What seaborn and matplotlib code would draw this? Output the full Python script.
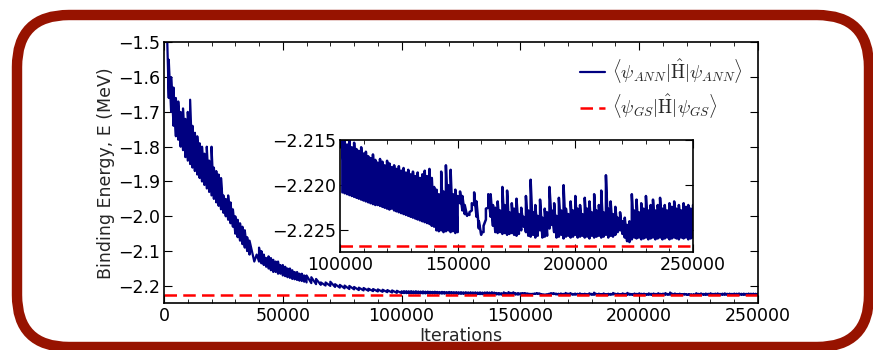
import numpy as np
import matplotlib
matplotlib.use("Agg")
import matplotlib.pyplot as plt
import seaborn as sns
from matplotlib.patches import FancyBboxPatch
from matplotlib.ticker import AutoMinorLocator, FuncFormatter

# --- data: lower / upper edge of the noisy trace ---
# (binding energy in MeV, per block of iterations)

# 1000 .. 60000, every 1000 iterations
early_iter = np.arange(1000, 60001, 1000)
early_low = [
    -1.45, -1.66, -1.70, -1.74, -1.77, -1.78, -1.80, -1.81, -1.83, -1.84,
    -1.85, -1.86, -1.87, -1.88, -1.89, -1.90, -1.91, -1.92, -1.93, -1.94,
    -1.95, -1.96, -1.97, -1.98, -1.99, -2.00, -2.01, -2.02, -2.03, -2.05,
    -2.06, -2.07, -2.08, -2.09, -2.10, -2.11, -2.10, -2.13, -2.11, -2.13,
    -2.135, -2.14, -2.145, -2.15, -2.155, -2.16, -2.16, -2.165, -2.165, -2.17,
    -2.172, -2.175, -2.177, -2.18, -2.181, -2.183, -2.185, -2.186, -2.188, -2.19,
]
early_high = [
    -1.40, -1.55, -1.60, -1.63, -1.66, -1.67, -1.70, -1.69, -1.72, -1.70,
    -1.665, -1.74, -1.76, -1.77, -1.79, -1.80, -1.82, -1.80, -1.84, -1.80,
    -1.86, -1.87, -1.88, -1.89, -1.94, -1.95, -1.94, -1.96, -1.98, -2.00,
    -2.01, -2.02, -2.03, -2.04, -2.06, -2.07, -2.10, -2.13, -2.11, -2.09,
    -2.10, -2.11, -2.12, -2.115, -2.12, -2.125, -2.13, -2.13, -2.14, -2.14,
    -2.145, -2.15, -2.15, -2.155, -2.16, -2.16, -2.165, -2.165, -2.17, -2.17,
]

# 62000 .. 100000, every 2000 iterations
mid_iter = np.arange(62000, 100001, 2000)
mid_low = [
    -2.192, -2.195, -2.197, -2.199, -2.200, -2.203, -2.205, -2.207, -2.209, -2.210,
    -2.212, -2.213, -2.214, -2.215, -2.216, -2.217, -2.218, -2.219, -2.220, -2.2207,
]
mid_high = [
    -2.175, -2.180, -2.190, -2.190, -2.188, -2.195, -2.197, -2.199, -2.200, -2.203,
    -2.205, -2.206, -2.208, -2.209, -2.210, -2.211, -2.212, -2.213, -2.214, -2.2155,
]

# 101000 .. 250000, every 1000 iterations (the region shown in the inset)
late_iter = np.arange(101000, 250001, 1000)
late_low = [
    -2.2208, -2.2209, -2.2210, -2.2211, -2.2212, -2.2213, -2.2214, -2.2215, -2.2216, -2.2217,
    -2.2218, -2.2219, -2.2220, -2.2221, -2.2222, -2.2222, -2.2223, -2.2224, -2.2225, -2.2226,
    -2.2227, -2.2226, -2.2228, -2.2229, -2.2230, -2.2231, -2.2232, -2.2233, -2.2234, -2.2235,
    -2.2236, -2.2237, -2.2238, -2.2239, -2.2240, -2.2241, -2.2242, -2.2243, -2.2245, -2.2246,
    -2.2250, -2.2251, -2.2250, -2.2252, -2.2251, -2.2250, -2.2252, -2.2251, -2.2253, -2.2252,
    -2.2220, -2.2228, -2.2232, -2.2234, -2.2233, -2.2228, -2.2222, -2.2235, -2.2248, -2.2255,
    -2.2252, -2.2238, -2.2225, -2.2235, -2.2245,
    -2.2252, -2.2253, -2.2252, -2.2254, -2.2253, -2.2255, -2.2254, -2.2253, -2.2255, -2.2256,
    -2.2254, -2.2250, -2.2246, -2.2252, -2.2256, -2.2257, -2.2255, -2.2258, -2.2256, -2.2250,
    -2.2258, -2.2257, -2.2256, -2.2248, -2.2244, -2.2252, -2.2258, -2.2257, -2.2255, -2.2259,
    -2.2257, -2.2256, -2.2258, -2.2257, -2.2255, -2.2258, -2.2257, -2.2256, -2.2258, -2.2257,
    -2.2259, -2.2256, -2.2258, -2.2257, -2.2256, -2.2258, -2.2257, -2.2255, -2.2258, -2.2256,
    -2.2257, -2.2255, -2.2252, -2.2250, -2.2254, -2.2258, -2.2262, -2.2263, -2.2260, -2.2258,
    -2.2259, -2.2258, -2.2260, -2.2259, -2.2258, -2.2260, -2.2259, -2.2258, -2.2260, -2.2259,
    -2.2258, -2.2260, -2.2259, -2.2258, -2.2260, -2.2259, -2.2258, -2.2259, -2.2260, -2.2258,
    -2.2259, -2.2258, -2.2260, -2.2259, -2.2258,
]
late_high = [
    -2.2150, -2.2152, -2.2155, -2.2150, -2.2158, -2.2153, -2.2160, -2.2162, -2.2158, -2.2165,
    -2.2163, -2.2168, -2.2170, -2.2166, -2.2172, -2.2175, -2.2171, -2.2174, -2.2178, -2.2173,
    -2.2176, -2.2180, -2.2178, -2.2182, -2.2179, -2.2184, -2.2181, -2.2186, -2.2183, -2.2188,
    -2.2185, -2.2190, -2.2186, -2.2192, -2.2188, -2.2184, -2.2190, -2.2182, -2.2192, -2.2202,
    -2.2205, -2.2210, -2.2185, -2.2207, -2.2178, -2.2200, -2.2183, -2.2210, -2.2205, -2.2212,
    -2.2207, -2.2212, -2.2222, -2.2232, -2.2230, -2.2220, -2.2208, -2.2218, -2.2240, -2.2252,
    -2.2245, -2.2226, -2.2210, -2.2210, -2.2222,
    -2.2225, -2.2218, -2.2228, -2.2202, -2.2222, -2.2206, -2.2230, -2.2220, -2.2226, -2.2215,
    -2.2232, -2.2225, -2.2235, -2.2212, -2.2228, -2.2194, -2.2230, -2.2222, -2.2234, -2.2216,
    -2.2236, -2.2226, -2.2230, -2.2202, -2.2228, -2.2220, -2.2234, -2.2214, -2.2228, -2.2200,
    -2.2226, -2.2232, -2.2218, -2.2228, -2.2212, -2.2226, -2.2222, -2.2232, -2.2214, -2.2226,
    -2.2218, -2.2230, -2.2210, -2.2228, -2.2222, -2.2206, -2.2230, -2.2189, -2.2226, -2.2218,
    -2.2232, -2.2224, -2.2236, -2.2230, -2.2240, -2.2236, -2.2244, -2.2240, -2.2210, -2.2228,
    -2.2216, -2.2230, -2.2220, -2.2226, -2.2212, -2.2228, -2.2222, -2.2216, -2.2228, -2.2222,
    -2.2214, -2.2226, -2.2222, -2.2228, -2.2220, -2.2224, -2.2218, -2.2226, -2.2222, -2.2228,
    -2.2220, -2.2224, -2.2222, -2.2226, -2.2222,
]

ground_state = -2.2267

main_xticks = [0, 50000, 100000, 150000, 200000, 250000]
main_yticks = [-1.5, -1.6, -1.7, -1.8, -1.9, -2.0, -2.1, -2.2]
inset_xticks = [100000, 150000, 200000, 250000]
inset_yticks = [-2.215, -2.220, -2.225]

label_ann = r"$\langle\psi_{ANN}|\hat{\mathrm{H}}|\psi_{ANN}\rangle$"
label_gs = r"$\langle\psi_{GS}|\hat{\mathrm{H}}|\psi_{GS}\rangle$"

# --- style ---
sns.set_style("ticks")
plt.rcParams["font.family"] = ["DejaVu Sans"]
plt.rcParams.update({
    "mathtext.fontset": "cm",
    "xtick.direction": "in",
    "ytick.direction": "in",
    "xtick.top": True,
    "ytick.right": True,
    "xtick.major.size": 6,
    "ytick.major.size": 6,
    "xtick.minor.size": 3,
    "ytick.minor.size": 3,
    "xtick.color": "black",
    "ytick.color": "black",
    "axes.edgecolor": "black",
    "axes.linewidth": 1.2,
    "font.size": 12.5,
})

LINE_COLOR = "#000080"
GS_COLOR = "#ff0000"
GS_DASH = (0, (5, 2.5))


def trace(it, low, high):
    """Zig-zag between lower and upper edge so the noisy band reads as filled."""
    x = np.repeat(it, 2)
    y = np.column_stack([low, high]).ravel()
    return x, y


def minus_fmt(fmt):
    return FuncFormatter(lambda v, pos: (fmt % v).replace("-", "\u2212"))


main_x, main_y = trace(np.concatenate([early_iter, mid_iter, late_iter]),
                       np.concatenate([early_low, mid_low, late_low]),
                       np.concatenate([early_high, mid_high, late_high]))
inset_x, inset_y = trace(late_iter, late_low, late_high)

fig = plt.figure(figsize=(8.73, 3.5), dpi=100)

# rounded red frame around everything, drawn in pixel units
bg = fig.add_axes([0, 0, 1, 1])
bg.set_xlim(0, 873)
bg.set_ylim(0, 350)
bg.axis("off")
bg.add_patch(FancyBboxPatch((17, 3), 852, 332,
                            boxstyle="round,pad=0,rounding_size=52",
                            fill=False, edgecolor="#971300", linewidth=7.5))

# main panel
ax = fig.add_axes([164 / 873, 46.7 / 350, 594 / 873, 261 / 350])
sns.lineplot(x=main_x, y=main_y, ax=ax, color=LINE_COLOR, linewidth=1.6,
             estimator=None, sort=False, label=label_ann)
ax.axhline(ground_state, color=GS_COLOR, linestyle=GS_DASH,
           linewidth=1.8, label=label_gs)
ax.set_xlim(0, 250000)
ax.set_ylim(-2.25, -1.5)
ax.set_xticks(main_xticks)
ax.set_yticks(main_yticks)
ax.xaxis.set_minor_locator(AutoMinorLocator(5))
ax.xaxis.set_major_formatter(minus_fmt("%d"))
ax.yaxis.set_major_formatter(minus_fmt("%.1f"))
ax.tick_params(labelsize=12.5, pad=3)
ax.set_xlabel("Iterations", fontsize=12.5, labelpad=1)
ax.set_ylabel("Binding Energy, E (MeV)", fontsize=12.5, labelpad=2)
ax.legend(loc="upper right", frameon=False, fontsize=13.5, handlelength=1.3,
          handletextpad=0.4, labelspacing=0.4, borderaxespad=0.4)

# inset zoom on the converged region
axin = fig.add_axes([340 / 873, 98 / 350, 353 / 873, 112 / 350])
sns.lineplot(x=inset_x, y=inset_y, ax=axin, color=LINE_COLOR,
             linewidth=1.8, estimator=None, sort=False)
axin.axhline(ground_state, color=GS_COLOR, linestyle=GS_DASH, linewidth=1.8)
axin.set_xlim(100000, 250000)
axin.set_ylim(-2.2274, -2.215)
axin.set_xticks(inset_xticks)
axin.set_yticks(inset_yticks)
axin.xaxis.set_minor_locator(AutoMinorLocator(5))
axin.xaxis.set_major_formatter(minus_fmt("%d"))
axin.yaxis.set_major_formatter(minus_fmt("%.3f"))
axin.tick_params(labelsize=12.5, pad=3)

fig.savefig("out.png", dpi=100)
